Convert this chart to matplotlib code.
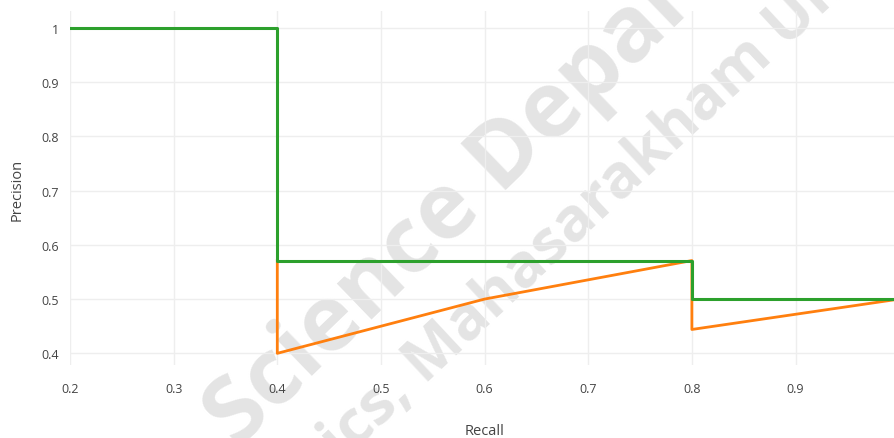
import matplotlib.pyplot as plt

# precision-recall points (the part under the green line is hidden anyway)
recall = [0.4, 0.4, 0.6, 0.8, 0.8, 1.0]
precision = [0.571, 0.4, 0.5, 0.571, 0.444, 0.5]

# interpolated precision
recall_interp = [0.2, 0.4, 0.4, 0.8, 0.8, 1.0]
precision_interp = [1.0, 1.0, 0.571, 0.571, 0.5, 0.5]

xticks = [0.2, 0.3, 0.4, 0.5, 0.6, 0.7, 0.8, 0.9]
yticks = [0.4, 0.5, 0.6, 0.7, 0.8, 0.9, 1.0]
ytick_labels = ['0.4', '0.5', '0.6', '0.7', '0.8', '0.9', '1']

plt.rcParams['font.family'] = ['Open Sans', 'DejaVu Sans']

W, H = 894, 439
fig = plt.figure(figsize=(W / 100, H / 100), dpi=100)
ax = fig.add_axes([70 / W, (H - 366) / H, (W - 70) / W, (366 - 12) / H])

ax.plot(recall, precision, color='#ff7f0e', lw=2, zorder=3)
ax.plot(recall_interp, precision_interp, color='#2ca02c', lw=2.2, zorder=4)

ax.set_xlim(0.2, 0.995)
ax.set_ylim(0.3785, 1.031)
ax.set_xticks(xticks)
ax.set_xticklabels([str(t) for t in xticks])
ax.set_yticks(yticks)
ax.set_yticklabels(ytick_labels)
ax.tick_params(length=0, labelsize=9, labelcolor='#444444', pad=12)
ax.tick_params(axis='y', pad=8)
ax.grid(True, color='#eeeeee', lw=1)
ax.set_axisbelow('line')
for s in ax.spines.values():
    s.set_visible(False)

fig.text(485 / W, 1 - 432 / H, 'Recall', ha='center', va='center',
         fontsize=10.5, color='#444444')
fig.text(17 / W, 1 - 190 / H, 'Precision', ha='center', va='center',
         rotation=90, fontsize=10.5, color='#444444')

# watermark, under grid, ticks and lines
wm = dict(transform=fig.transFigure, rotation_mode='anchor', va='baseline',
          fontweight='bold', color='#e4e4e4', zorder=1, clip_on=False)
ax.text(238 / W, 1 - 449 / H, 'Science Department', rotation=44,
        ha='left', fontsize=66, **wm)
ax.text(425 / W, 1 - 385 / H, 'Mahasarakham University', rotation=43,
        ha='left', fontsize=44, **wm)
ax.text(425 / W, 1 - 385 / H, 'Informatics, ', rotation=43,
        ha='right', fontsize=44, **wm)

fig.savefig('out.png', dpi=100)
